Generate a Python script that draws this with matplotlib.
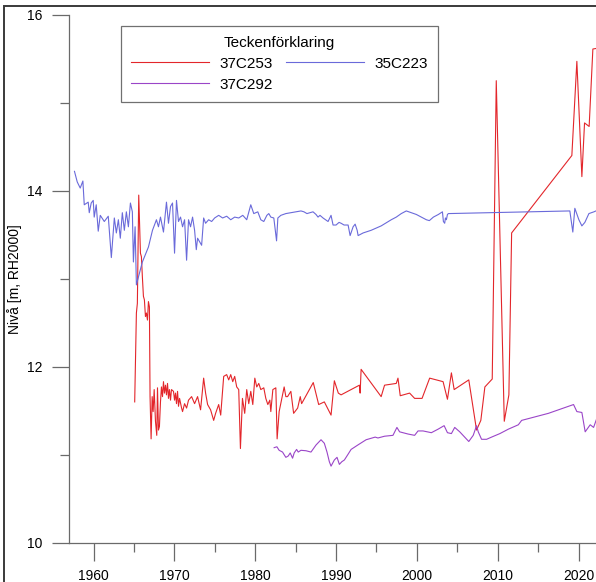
import matplotlib
matplotlib.use("Agg")
import matplotlib.pyplot as plt
from matplotlib.patches import Rectangle
from matplotlib.ticker import MultipleLocator

plt.rcParams['font.family'] = ['Liberation Sans', 'DejaVu Sans']

# --- groundwater level series (year, level in m RH2000) ---
years_35C223 = [1957.64, 1957.98, 1958.35, 1958.68, 1958.85, 1959.34, 1959.47, 1959.71, 1959.96,
                1960.08, 1960.33, 1960.58, 1960.83, 1961.33, 1961.82, 1962.20, 1962.57, 1962.82,
                1963.07, 1963.31, 1963.56, 1963.81, 1964.06, 1964.31, 1964.56, 1964.80, 1964.93,
                1965.14, 1965.30, 1966.04, 1966.79, 1967.29, 1967.78, 1968.03, 1968.28, 1968.65,
                1969.02, 1969.27, 1969.52, 1969.77, 1970.02, 1970.26, 1970.51, 1970.76, 1971.01,
                1971.26, 1971.51, 1971.75, 1972.00, 1972.25, 1972.50, 1972.71, 1972.87, 1973.37,
                1973.62, 1973.86, 1974.24, 1974.61, 1974.98, 1975.48, 1975.97, 1976.47, 1976.97,
                1977.46, 1977.96, 1978.46, 1978.95, 1979.45, 1979.82, 1980.32, 1980.69, 1981.06,
                1981.44, 1981.68, 1981.93, 1982.30, 1982.64, 1982.80, 1983.17, 1983.79, 1984.41,
                1985.03, 1985.66, 1986.03, 1986.40, 1987.15, 1987.52, 1987.77, 1988.01, 1988.39,
                1989.01, 1989.38, 1989.63, 1990.00, 1990.37, 1990.62, 1990.99, 1991.49, 1991.74,
                1992.11, 1992.36, 1992.61, 1992.73, 1993.35, 1994.34, 1995.58, 1996.83, 1997.45,
                1998.07, 1998.69, 1999.31, 1999.93, 2000.55, 2001.17, 2001.54, 2002.04, 2002.66,
                2003.16, 2003.28, 2003.44, 2003.53, 2003.65, 2003.78, 2003.90, 2018.92, 2019.29,
                2019.54, 2020.04, 2020.41, 2020.78, 2021.28, 2021.90, 2022.40]
level_35C223 = [14.22, 14.10, 14.03, 14.11, 13.84, 13.87, 13.75, 13.86, 13.89,
                13.70, 13.84, 13.54, 13.72, 13.65, 13.71, 13.24, 13.69, 13.52,
                13.67, 13.46, 13.75, 13.55, 13.76, 13.59, 13.86, 13.76, 13.19,
                13.59, 12.93, 13.19, 13.36, 13.55, 13.67, 13.59, 13.70, 13.53,
                13.87, 13.63, 13.82, 13.86, 13.29, 13.89, 13.65, 13.70, 13.59,
                13.67, 13.21, 13.67, 13.59, 13.70, 13.55, 13.33, 13.46, 13.38,
                13.69, 13.63, 13.67, 13.65, 13.69, 13.72, 13.69, 13.71, 13.67,
                13.70, 13.69, 13.72, 13.67, 13.84, 13.74, 13.76, 13.67, 13.65,
                13.72, 13.74, 13.70, 13.69, 13.43, 13.69, 13.72, 13.74, 13.75,
                13.76, 13.77, 13.76, 13.74, 13.76, 13.73, 13.70, 13.72, 13.69,
                13.65, 13.72, 13.61, 13.61, 13.64, 13.63, 13.61, 13.61, 13.49,
                13.59, 13.62, 13.55, 13.49, 13.52, 13.55, 13.60, 13.67, 13.70,
                13.74, 13.77, 13.75, 13.73, 13.70, 13.67, 13.66, 13.70, 13.73,
                13.76, 13.65, 13.63, 13.69, 13.67, 13.73, 13.74, 13.77, 13.53,
                13.80, 13.67, 13.60, 13.64, 13.74, 13.76, 13.78]

years_37C253 = [1965.09, 1965.30, 1965.42, 1965.59, 1965.80, 1965.92, 1966.04, 1966.17, 1966.29,
                1966.42, 1966.54, 1966.67, 1966.79, 1966.91, 1966.99, 1967.12, 1967.25, 1967.37,
                1967.50, 1967.66, 1967.82, 1967.91, 1968.03, 1968.15, 1968.28, 1968.40, 1968.53,
                1968.65, 1968.77, 1968.90, 1969.02, 1969.15, 1969.27, 1969.39, 1969.52, 1969.64,
                1969.89, 1970.02, 1970.14, 1970.26, 1970.39, 1970.51, 1970.64, 1970.89, 1971.01,
                1971.26, 1971.51, 1971.75, 1972.13, 1972.50, 1972.87, 1973.24, 1973.62, 1973.86,
                1974.11, 1974.48, 1974.86, 1975.10, 1975.48, 1975.73, 1976.10, 1976.47, 1976.72,
                1976.97, 1977.22, 1977.46, 1977.71, 1977.96, 1978.17, 1978.42, 1978.70, 1978.95,
                1979.20, 1979.45, 1979.70, 1979.95, 1980.19, 1980.44, 1980.69, 1981.06, 1981.31,
                1981.56, 1981.81, 1981.93, 1982.18, 1982.55, 1982.71, 1982.96, 1983.58, 1983.79,
                1984.00, 1984.41, 1984.75, 1985.25, 1985.57, 1985.74, 1987.18, 1987.85, 1988.55,
                1989.38, 1989.79, 1990.28, 1990.62, 1992.89, 1992.98, 1993.10, 1995.58, 1996.00,
                1997.45, 1997.66, 1997.94, 1999.10, 1999.72, 2000.64, 2001.58, 2003.24, 2003.78,
                2004.27, 2004.61, 2006.42, 2007.38, 2007.91, 2008.41, 2009.32, 2009.82, 2010.81,
                2011.38, 2011.72, 2019.17, 2019.79, 2020.41, 2020.74, 2021.31, 2021.77, 2022.40]
level_37C253 = [11.60, 12.61, 12.72, 13.95, 13.29, 13.25, 13.02, 12.80, 12.76,
                12.57, 12.61, 12.53, 12.74, 12.68, 11.66, 11.18, 11.66, 11.49,
                11.74, 11.38, 11.22, 11.76, 11.28, 11.32, 11.60, 11.77, 11.66,
                11.83, 11.70, 11.79, 11.68, 11.81, 11.64, 11.74, 11.62, 11.74,
                11.72, 11.62, 11.70, 11.58, 11.72, 11.55, 11.64, 11.53, 11.49,
                11.58, 11.53, 11.62, 11.66, 11.58, 11.66, 11.51, 11.87, 11.70,
                11.57, 11.51, 11.39, 11.47, 11.57, 11.45, 11.89, 11.91, 11.85,
                11.91, 11.83, 11.89, 11.77, 11.74, 11.07, 11.64, 11.47, 11.74,
                11.58, 11.72, 11.57, 11.87, 11.77, 11.81, 11.74, 11.76, 11.64,
                11.57, 11.62, 11.49, 11.74, 11.76, 11.18, 11.49, 11.77, 11.66,
                11.66, 11.72, 11.47, 11.53, 11.66, 11.58, 11.82, 11.57, 11.60,
                11.45, 11.84, 11.70, 11.68, 11.79, 11.70, 11.97, 11.66, 11.79,
                11.81, 11.87, 11.67, 11.70, 11.64, 11.64, 11.87, 11.83, 11.63,
                11.93, 11.74, 11.85, 11.28, 11.39, 11.77, 11.86, 15.25, 11.38,
                11.68, 13.52, 14.40, 15.47, 14.16, 14.77, 14.73, 15.61, 15.62]

years_37C292 = [1982.34, 1982.68, 1982.96, 1983.38, 1983.58, 1983.79, 1984.08, 1984.33, 1984.62,
                1984.82, 1985.12, 1985.32, 1985.66, 1986.28, 1986.90, 1987.52, 1988.14, 1988.55,
                1988.88, 1989.17, 1989.38, 1989.79, 1990.12, 1990.41, 1990.71, 1991.03, 1991.45,
                1991.86, 1992.69, 1993.72, 1994.84, 1995.18, 1996.00, 1997.04, 1997.53, 1997.86,
                1998.90, 1999.72, 2000.14, 2000.76, 2001.79, 2002.62, 2003.37, 2003.78, 2004.27,
                2004.68, 2005.30, 2006.42, 2006.97, 2007.38, 2007.59, 2008.00, 2008.62, 2009.24,
                2010.27, 2011.31, 2012.55, 2012.96, 2013.79, 2016.27, 2019.38, 2019.79, 2020.41,
                2020.82, 2021.44, 2021.86, 2022.40]
level_37C292 = [11.08, 11.09, 11.05, 11.03, 11.00, 10.97, 10.985, 11.02, 10.96,
                11.02, 11.06, 11.03, 11.05, 11.045, 11.03, 11.11, 11.17, 11.13,
                11.03, 10.92, 10.87, 10.94, 10.97, 10.89, 10.92, 10.94, 11.00,
                11.06, 11.11, 11.17, 11.20, 11.19, 11.21, 11.22, 11.31, 11.26,
                11.235, 11.22, 11.27, 11.27, 11.25, 11.29, 11.33, 11.25, 11.24,
                11.31, 11.26, 11.15, 11.22, 11.33, 11.26, 11.175, 11.175, 11.20,
                11.24, 11.29, 11.34, 11.39, 11.41, 11.47, 11.57, 11.49, 11.48,
                11.26, 11.34, 11.31, 11.45]

y_major = [10, 12, 14, 16]
x_major = [1960, 1970, 1980, 1990, 2000, 2010, 2020]

RED = '#e3262b'
BLUE = '#6a6ada'
PURPLE = '#9a45c8'
AXIS = '#6a6a6a'

W, H = 596, 582
fig = plt.figure(figsize=(W / 100, H / 100), dpi=100)

# axes box in pixel terms: left spine x=69.3, bottom y=542.7, top y=14.7, running past the right edge
left, right = 69.3, 602.0
top, bottom = 14.7, 542.7
ax = fig.add_axes([left / W, 1 - bottom / H, (right - left) / W, (bottom - top) / H])

lw = 0.8
l1, = ax.plot(years_37C253, level_37C253, color=RED, lw=lw, label='37C253')
l2, = ax.plot(years_35C223, level_35C223, color=BLUE, lw=lw, label='35C223')
l3, = ax.plot(years_37C292, level_37C292, color=PURPLE, lw=lw, label='37C292')

ax.set_xlim(1957.0, 2022.9)
ax.set_ylim(10, 16)
ax.set_yticks(y_major)
ax.set_yticklabels([str(v) for v in y_major])
ax.yaxis.set_minor_locator(MultipleLocator(1))
ax.set_xticks(x_major)
ax.set_xticklabels([str(v) for v in x_major])
ax.xaxis.set_minor_locator(MultipleLocator(5))

for s in ('top', 'right'):
    ax.spines[s].set_visible(False)
for s in ('left', 'bottom'):
    ax.spines[s].set_color(AXIS)
    ax.spines[s].set_linewidth(0.9)

ax.tick_params(which='major', direction='out', length=12.6, width=0.9, color=AXIS,
               labelsize=10, labelcolor='black')
ax.tick_params(which='minor', direction='out', length=6.5, width=0.9, color=AXIS)
ax.tick_params(axis='y', which='major', pad=7)
ax.tick_params(axis='x', which='major', pad=6.5)

fig.text(15 / W, 1 - 279 / H, 'Nivå [m, RH2000]', rotation=90, ha='center', va='center',
         fontsize=10)

leg = ax.legend(handles=[l1, l3, l2], ncol=2, title='Teckenförklaring',
                loc='upper left', bbox_to_anchor=(121 / W, 1 - 26 / H),
                bbox_transform=fig.transFigure, borderaxespad=0,
                fontsize=11, title_fontsize=11, fancybox=False, framealpha=1,
                edgecolor='#707070', handlelength=5.1, handletextpad=0.7,
                columnspacing=0.85, labelspacing=0.45, borderpad=0.65)
leg.get_frame().set_linewidth(0.9)

# outer border of the sheet
fig.add_artist(Rectangle((4 / W, -0.1), 1.2, 1 - 6 / H + 0.1, transform=fig.transFigure,
                         fill=False, edgecolor='#3a3a3a', linewidth=1.4, clip_on=False))

fig.savefig('out.png', dpi=100)
